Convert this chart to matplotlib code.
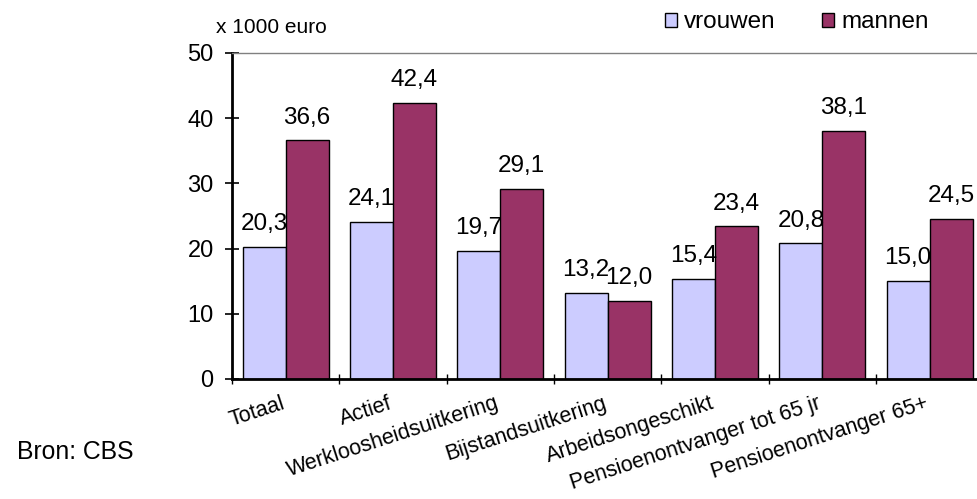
import numpy as np
import matplotlib.pyplot as plt
from matplotlib.patches import Patch

categorieen = ['Totaal', 'Actief', 'Werkloosheidsuitkering', 'Bijstandsuitkering',
               'Arbeidsongeschikt', 'Pensioenontvanger tot 65 jr', 'Pensioenontvanger 65+']
vrouwen = [20.3, 24.1, 19.7, 13.2, 15.4, 20.8, 15.0]
mannen = [36.6, 42.4, 29.1, 12.0, 23.4, 38.1, 24.5]

plt.rcParams['font.family'] = ['Liberation Sans', 'DejaVu Sans']

fig = plt.figure(figsize=(9.78, 4.99), dpi=100)
ax = fig.add_axes([0.2372, 0.2405, 0.7682, 0.6533])

x = np.arange(len(categorieen)) + 0.5
b1 = ax.bar(x - 0.2, vrouwen, 0.4, color='#CCCCFF', edgecolor='black', linewidth=1)
b2 = ax.bar(x + 0.2, mannen, 0.4, color='#993366', edgecolor='black', linewidth=1)

# waarden boven de staven, met komma
for bars, vals in ((b1, vrouwen), (b2, mannen)):
    for rect, v in zip(bars, vals):
        ax.annotate(f'{v:.1f}'.replace('.', ','),
                    (rect.get_x() + rect.get_width() / 2, v),
                    xytext=(0, 8.5), textcoords='offset points',
                    ha='center', va='bottom', fontsize=17.5)

ax.set_xlim(0, 7)
ax.set_ylim(0, 50)
ax.set_yticks(range(0, 51, 10))

ax.set_xticks(range(8))
ax.set_xticklabels([])
ax.set_xticks(x, minor=True)
ax.set_xticklabels(categorieen, minor=True, rotation=18, ha='right', va='baseline',
                   rotation_mode='anchor', fontsize=15.5)
ax.tick_params(axis='x', which='minor', length=0, pad=21)
ax.tick_params(axis='x', which='major', direction='inout', length=6.5, width=1)
ax.tick_params(axis='y', direction='inout', length=9.4, width=1.2, labelsize=17, pad=8.5)

ax.spines['left'].set_linewidth(2)
ax.spines['bottom'].set_linewidth(2)
ax.spines['top'].set_color('#808080')
ax.spines['top'].set_linewidth(1)
ax.spines['right'].set_visible(False)

fig.legend(handles=[Patch(facecolor='#CCCCFF', edgecolor='black', label='vrouwen'),
                    Patch(facecolor='#993366', edgecolor='black', label='mannen')],
           loc='center', bbox_to_anchor=(0.815, 0.955), ncol=2, frameon=False,
           fontsize=17.5, handlelength=0.5, handleheight=0.5, handletextpad=0.3,
           columnspacing=1.9, borderpad=0)

fig.text(216 / 978, 1 - 33 / 499, 'x 1000 euro', fontsize=15, va='baseline')
fig.text(17 / 978, 1 - 459 / 499, 'Bron: CBS', fontsize=17.8, va='baseline')

fig.savefig('out.png', dpi=100)
